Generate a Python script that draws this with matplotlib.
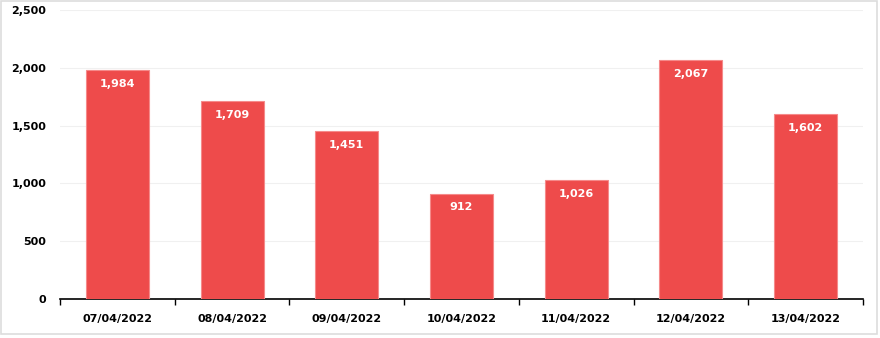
import matplotlib
matplotlib.use("Agg")
import matplotlib.pyplot as plt
from matplotlib.patches import Rectangle
import numpy as np

dates = ["07/04/2022", "08/04/2022", "09/04/2022", "10/04/2022", "11/04/2022", "12/04/2022", "13/04/2022"]
values = [1984, 1709, 1451, 912, 1026, 2067, 1602]
yticks = [0, 500, 1000, 1500, 2000, 2500]

plt.rcParams['font.family'] = ['DejaVu Sans']
fig = plt.figure(figsize=(8.8, 3.38), dpi=100)
ax = fig.add_axes([60/880, 39/338, 803/880, 289/338])

x = np.arange(len(dates))
bars = ax.bar(x, values, width=0.55, color="#EE4B4B", edgecolor="#F58A8A", linewidth=0.8, zorder=3)
for xi, v in zip(x, values):
    ax.annotate(f"{v:,}", (xi, v), xytext=(0, -10), textcoords="offset points",
                ha="center", va="center", color="white", fontsize=8, fontweight="bold", zorder=4)

ax.set_xlim(-0.5, len(dates) - 0.5)
ax.set_ylim(0, 2500)
ax.set_yticks(yticks)
ax.set_yticklabels([f"{t:,}" for t in yticks], fontsize=8, fontweight="bold")
ax.tick_params(axis="y", length=0, pad=10)
ax.yaxis.grid(True, color="#F0F0F0", linewidth=0.8, zorder=0)

ax.set_xticks(x)
ax.set_xticklabels(dates, fontsize=8, fontweight="bold")
ax.tick_params(axis="x", length=0, pad=11)
ax.set_xticks(np.arange(len(dates) + 1) - 0.5, minor=True)
ax.tick_params(axis="x", which="minor", length=4, width=1, color="black")

for s in ["top", "right", "left"]:
    ax.spines[s].set_visible(False)
ax.spines["bottom"].set_color("black")
ax.spines["bottom"].set_linewidth(1.2)

fig.patches.append(Rectangle((1/880, 4/338), 876/880, 333/338, transform=fig.transFigure,
                             fill=False, edgecolor="#DDDDDD", linewidth=1.2))

fig.savefig("out.png", dpi=100)
